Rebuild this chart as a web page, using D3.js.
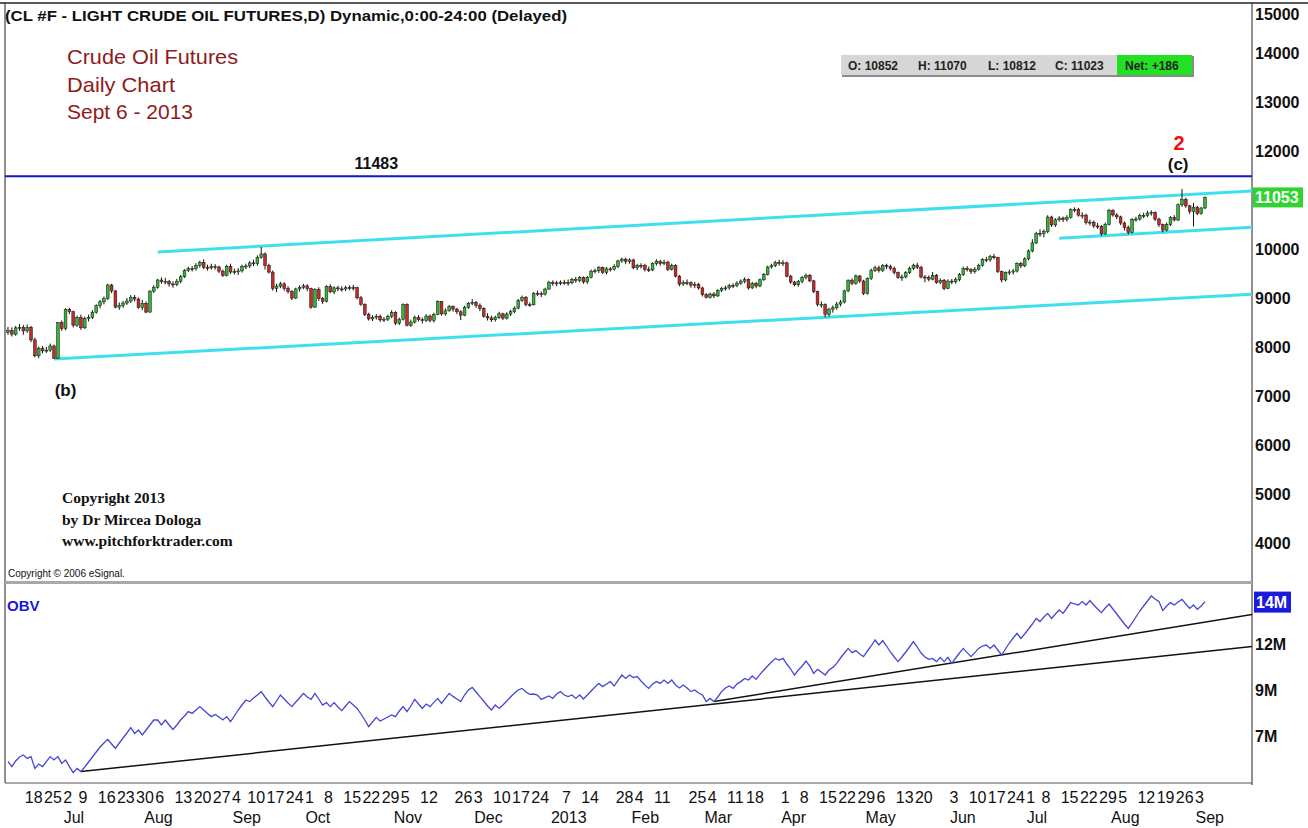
<!DOCTYPE html>
<html>
<head>
<meta charset="utf-8">
<script src="https://cdn.jsdelivr.net/npm/d3@7"></script>
<style>
  body { margin: 0; background: #fff; }
  svg { display: block; font-family: "Liberation Sans", Arial, sans-serif; }
</style>
</head>
<body>
<svg id="chart" width="1308" height="828"></svg>
<script>
// daily bars: [day, high, low, close, OBV in millions]
// open of each bar is the previous bar's close
const firstOpen = 8300;
const jun12 = [[12,8410,8250,8332,5.72],[13,8400,8215,8262,5.47],[14,8430,8230,8391,5.75],[15,8470,8330,8403,5.95],[18,8450,8250,8327,6.05],[19,8460,8290,8403,5.88],[20,8430,8100,8145,5.97],[21,8190,7790,7820,5.38],[22,8010,7770,7976,5.6],[25,8020,7870,7921,5.47],[26,8000,7880,7936,5.72],[27,8070,7900,8021,5.97],[28,8050,7756,7769,5.8],[29,8510,7760,8496,5.97]];
const jul12 = [[2,8540,8330,8375,5.63],[3,8790,8340,8766,5.8],[5,8800,8670,8722,5.47],[6,8740,8400,8445,5.17],[9,8640,8410,8599,5.38],[10,8660,8350,8391,5.22],[11,8620,8370,8581,5.45],[12,8660,8520,8608,5.7],[13,8750,8570,8710,5.95],[16,8870,8680,8843,6.2],[17,8960,8790,8922,6.45],[18,9030,8870,8987,6.65],[19,9290,8960,9266,6.83],[20,9290,9100,9144,6.6],[23,9160,8790,8814,6.38],[24,8910,8760,8850,6.65],[25,8940,8800,8897,6.9],[26,9000,8860,8939,7.15],[27,9060,8900,9013,7.42],[30,9060,8930,8978,7.13],[31,9010,8780,8806,7.3]];
const aug12 = [[1,8960,8750,8891,7.05],[2,8930,8690,8713,7.3],[3,9160,8700,9140,7.55],[6,9260,9100,9220,7.8],[7,9390,9190,9367,7.8],[8,9420,9290,9335,7.55],[9,9410,9280,9336,7.8],[10,9370,9230,9287,7.55],[13,9340,9210,9273,7.33],[14,9390,9240,9343,7.55],[15,9470,9300,9433,7.8],[16,9590,9410,9560,8.0],[17,9640,9530,9601,8.22],[20,9650,9540,9597,8.13],[21,9710,9560,9668,8.3],[22,9760,9620,9726,8.47],[23,9790,9590,9627,8.3],[24,9680,9560,9615,8.13],[27,9700,9580,9647,7.97],[28,9690,9580,9633,8.08],[29,9660,9510,9549,7.95],[30,9580,9430,9462,7.8],[31,9680,9440,9647,7.97]];
const sep12 = [[4,9700,9490,9530,7.72],[5,9600,9480,9536,8.0],[6,9610,9470,9553,8.3],[7,9680,9520,9642,8.55],[10,9700,9590,9654,8.8],[11,9750,9610,9717,8.72],[12,9780,9650,9701,8.9],[13,9870,9660,9831,9.05],[14,10042,9800,9900,9.22],[17,9930,9580,9662,8.95],[18,9700,9500,9529,8.7],[19,9560,9150,9198,8.47],[20,9290,9120,9242,8.75],[21,9330,9200,9289,9.05],[24,9320,9150,9193,8.85],[25,9240,9090,9137,8.65],[26,9160,8960,8998,8.47],[27,9210,8980,9185,8.7],[28,9260,9130,9219,8.9]];
const oct12 = [[1,9290,9180,9248,9.13],[2,9280,9140,9189,8.95],[3,9210,8780,8814,8.83],[4,9200,8800,9171,9.13],[5,9220,8940,8988,8.85],[8,9020,8880,8933,8.55],[9,9260,8910,9239,8.67],[10,9280,9100,9125,8.47],[11,9240,9080,9207,8.67],[12,9250,9140,9186,8.45],[15,9240,9130,9185,8.27],[16,9250,9140,9209,8.5],[17,9260,9160,9212,8.72],[18,9270,9150,9210,8.55],[19,9230,8970,9005,8.38],[22,9040,8840,8873,8.1],[23,8890,8630,8667,7.8],[24,8700,8540,8573,7.47],[25,8650,8530,8605,7.7],[26,8670,8560,8628,7.93],[29,8660,8510,8554,7.75],[30,8610,8510,8568,7.85],[31,8660,8530,8624,7.95]];
const nov12 = [[1,8750,8590,8709,8.05],[2,8730,8450,8486,7.97],[5,8600,8450,8565,8.25],[6,8890,8540,8871,8.47],[7,8890,8420,8444,8.22],[8,8560,8410,8509,8.5],[9,8640,8480,8607,8.83],[12,8650,8520,8557,8.6],[13,8600,8480,8538,8.38],[14,8670,8510,8632,8.6],[15,8660,8500,8545,8.47],[16,8700,8500,8667,8.68],[19,8950,8650,8928,8.88],[20,8940,8640,8675,8.63],[21,8790,8640,8738,8.88],[23,8860,8720,8828,9.13],[26,8850,8720,8774,8.98],[27,8800,8670,8718,8.85],[28,8750,8550,8649,8.72],[29,8840,8630,8807,9.05],[30,8920,8780,8891,9.3]];
const dec12 = [[3,8980,8850,8909,9.43],[4,8940,8800,8849,9.2],[5,8890,8730,8788,8.97],[6,8810,8600,8626,8.75],[7,8690,8540,8593,8.5],[10,8640,8510,8556,8.3],[11,8640,8520,8599,8.55],[12,8720,8570,8677,8.38],[13,8700,8550,8589,8.55],[14,8710,8560,8673,8.75],[17,8760,8630,8720,8.95],[18,8830,8690,8793,9.15],[19,8980,8770,8951,9.3],[20,9050,8920,9013,9.38],[21,9040,8830,8866,9.2],[24,8910,8820,8861,9.08],[26,9120,8850,9098,9.1],[27,9150,9040,9087,9.05],[28,9130,9020,9080,8.83],[31,9210,9050,9182,8.92]];
const jan13 = [[2,9350,9170,9312,9.0],[3,9360,9250,9292,8.88],[4,9350,9240,9309,9.1],[7,9360,9260,9319,9.22],[8,9370,9270,9315,9.05],[9,9380,9250,9310,8.97],[10,9410,9280,9382,9.05],[11,9430,9310,9356,8.88],[14,9450,9320,9414,9.05],[15,9440,9290,9328,8.85],[16,9450,9290,9424,9.05],[17,9580,9400,9549,9.25],[18,9600,9500,9556,9.45],[22,9650,9510,9624,9.63],[23,9640,9490,9523,9.47],[24,9630,9480,9595,9.6],[25,9630,9540,9588,9.72],[28,9690,9560,9644,9.5],[29,9780,9610,9757,9.78],[30,9820,9720,9794,10.05],[31,9820,9690,9749,9.88]];
const feb13 = [[1,9810,9700,9777,10.05],[4,9800,9590,9617,9.92],[5,9700,9570,9664,9.97],[6,9710,9600,9662,9.75],[7,9700,9540,9583,9.55],[8,9640,9530,9572,9.38],[11,9730,9550,9703,9.6],[12,9790,9660,9751,9.72],[13,9780,9660,9701,9.63],[14,9780,9670,9731,9.8],[15,9760,9550,9586,9.63],[19,9700,9560,9666,9.8],[20,9690,9420,9446,9.55],[21,9470,9240,9284,9.4],[22,9360,9250,9313,9.55],[25,9380,9260,9311,9.4],[26,9340,9210,9263,9.22],[27,9330,9200,9276,9.3],[28,9310,9170,9205,9.15]];
const mar13 = [[1,9230,9030,9068,9.05],[4,9100,8990,9012,8.72],[5,9110,8990,9082,8.88],[6,9120,9000,9043,8.72],[7,9180,9020,9156,8.95],[8,9230,9120,9195,9.22],[11,9250,9150,9206,9.4],[12,9290,9170,9254,9.5],[13,9300,9200,9252,9.38],[14,9340,9220,9303,9.6],[15,9380,9270,9345,9.72],[18,9420,9300,9373,9.88],[19,9400,9170,9206,9.8],[20,9330,9180,9296,10.0],[21,9330,9200,9245,9.83],[22,9400,9220,9371,10.08],[25,9510,9350,9481,10.3],[26,9660,9460,9634,10.5],[27,9700,9600,9658,10.7],[28,9760,9630,9723,10.88]];
const apr13 = [[1,9780,9660,9707,10.8],[2,9770,9650,9719,10.88],[3,9740,9420,9445,10.6],[4,9470,9290,9326,10.35],[5,9350,9240,9270,10.05],[8,9370,9230,9336,10.3],[9,9450,9300,9420,10.5],[10,9500,9380,9464,10.75],[11,9490,9320,9350,10.5],[12,9370,9100,9129,10.13],[15,9150,8830,8871,10.33],[16,8930,8800,8872,10.2],[17,8890,8606,8668,10.05],[18,8800,8620,8773,10.3],[19,8850,8700,8801,10.43],[22,8920,8760,8876,10.63],[23,8960,8830,8918,10.9],[24,9170,8890,9144,11.15],[25,9380,9120,9364,11.38],[26,9400,9260,9300,11.17],[29,9480,9270,9450,11.27],[30,9470,9310,9346,11.1]];
const may13 = [[1,9370,9060,9093,10.97],[2,9420,9070,9399,11.25],[3,9600,9370,9561,11.5],[6,9660,9530,9616,11.8],[7,9660,9520,9562,11.55],[8,9690,9530,9662,11.77],[9,9700,9590,9639,11.5],[10,9680,9560,9604,11.2],[13,9640,9480,9517,10.95],[14,9540,9390,9421,10.72],[15,9480,9350,9430,10.95],[16,9550,9400,9516,11.2],[17,9640,9490,9602,11.45],[20,9700,9570,9671,11.72],[21,9720,9590,9625,11.45],[22,9660,9400,9428,11.15],[23,9470,9320,9425,10.95],[24,9460,9340,9384,10.83],[28,9530,9360,9465,10.88],[29,9490,9290,9313,10.72],[30,9400,9280,9361,10.93],[31,9390,9160,9197,10.72]];
const jun13 = [[3,9380,9180,9345,10.93],[4,9390,9280,9331,10.63],[5,9420,9290,9374,10.9],[6,9510,9340,9476,11.15],[7,9640,9450,9603,11.38],[10,9650,9540,9577,11.17],[11,9610,9490,9538,10.97],[12,9630,9500,9588,11.17],[13,9700,9560,9669,11.38],[14,9810,9640,9785,11.5],[17,9840,9730,9777,11.55],[18,9880,9740,9844,11.38],[19,9900,9790,9824,11.55],[20,9840,9510,9540,11.3],[21,9560,9320,9369,11.05],[24,9540,9340,9518,11.35],[25,9580,9470,9532,11.65],[26,9590,9480,9550,11.9],[27,9730,9520,9705,12.13],[28,9740,9610,9656,11.88]];
const jul13 = [[1,9830,9630,9799,12.1],[2,9990,9770,9960,12.35],[3,10200,9930,10124,12.6],[5,10350,10100,10322,12.88],[8,10400,10250,10314,12.72],[9,10400,10240,10353,12.95],[10,10690,10320,10652,13.13],[11,10680,10450,10491,12.88],[12,10630,10450,10595,13.1],[15,10670,10560,10632,13.3],[16,10660,10550,10600,13.13],[17,10690,10560,10648,13.4],[18,10830,10620,10804,13.67],[19,10850,10750,10805,13.6],[22,10840,10660,10691,13.55],[23,10750,10620,10691,13.72],[24,10720,10500,10539,13.55],[25,10600,10480,10549,13.77],[26,10580,10430,10470,13.55],[29,10530,10410,10455,13.35],[30,10490,10270,10308,13.17],[31,10540,10290,10503,13.4]];
const aug13 = [[1,10820,10480,10789,13.6],[2,10810,10660,10694,13.35],[5,10730,10610,10656,13.1],[6,10680,10490,10530,12.85],[7,10560,10380,10437,12.6],[8,10480,10300,10340,12.38],[9,10630,10320,10603,12.65],[12,10660,10560,10611,12.95],[13,10720,10580,10683,13.25],[14,10740,10630,10685,13.5],[15,10780,10650,10733,13.75],[16,10790,10680,10746,14.0],[19,10770,10570,10610,13.85],[20,10640,10450,10496,13.72],[21,10520,10340,10385,13.27],[22,10540,10360,10503,13.5],[23,10670,10470,10642,13.67],[26,10690,10560,10592,13.55],[27,10930,10570,10901,13.7],[28,11224,10860,11010,13.83],[29,11050,10840,10880,13.6],[30,10900,10720,10765,13.38]];
const sep13 = [[3,10940,10460,10854,13.55],[4,10880,10690,10723,13.33],[5,10860,10700,10837,13.5],[6,11070,10812,11053,13.72]];

const months = [["2012-06", jun12], ["2012-07", jul12], ["2012-08", aug12], ["2012-09", sep12],
  ["2012-10", oct12], ["2012-11", nov12], ["2012-12", dec12], ["2013-01", jan13], ["2013-02", feb13],
  ["2013-03", mar13], ["2013-04", apr13], ["2013-05", may13], ["2013-06", jun13], ["2013-07", jul13],
  ["2013-08", aug13], ["2013-09", sep13]];

// axis labels
const priceTicks = [4000, 5000, 6000, 7000, 8000, 9000, 10000, 12000, 13000, 14000, 15000];
const obvTicks = [7.0, 9.3, 11.6];
const weekTicks = ["2012-06-18","2012-06-25","2012-07-02","2012-07-09","2012-07-16","2012-07-23","2012-07-30",
  "2012-08-06","2012-08-13","2012-08-20","2012-08-27","2012-09-04","2012-09-10","2012-09-17","2012-09-24",
  "2012-10-01","2012-10-08","2012-10-15","2012-10-22","2012-10-29","2012-11-05","2012-11-12","2012-11-26",
  "2012-12-03","2012-12-10","2012-12-17","2012-12-24","2013-01-07","2013-01-14","2013-01-28","2013-02-04",
  "2013-02-11","2013-02-25","2013-03-04","2013-03-11","2013-03-18","2013-04-01","2013-04-08","2013-04-15",
  "2013-04-22","2013-04-29","2013-05-06","2013-05-13","2013-05-20","2013-06-03","2013-06-10","2013-06-17",
  "2013-06-24","2013-07-01","2013-07-08","2013-07-15","2013-07-22","2013-07-29","2013-08-05","2013-08-12",
  "2013-08-19","2013-08-26","2013-09-03"];
const monthTicks = [["2012-07-02","Jul"],["2012-08-01","Aug"],["2012-09-04","Sep"],["2012-10-01","Oct"],
  ["2012-11-01","Nov"],["2012-12-03","Dec"],["2013-01-02","2013"],["2013-02-01","Feb"],["2013-03-01","Mar"],
  ["2013-04-01","Apr"],["2013-05-01","May"],["2013-06-03","Jun"],["2013-07-01","Jul"],["2013-08-01","Aug"],
  ["2013-09-03","Sep"]];

// drawn studies: two anchor points each, extended to the right edge
const priceLevel = 11483;
const channelTop = [["2012-08-07", 9940], ["2013-07-19", 10980]];
const channelBottom = [["2012-06-28", 7756], ["2013-04-17", 8606]];
const shortSupport = [["2013-07-15", 10220], ["2013-08-21", 10340]];
const obvLineLow = [["2012-07-10", 5.22], ["2013-03-06", 8.6]];
const obvLineHigh = [["2013-03-06", 8.72], ["2013-06-21", 11.05]];
const quote = { open: 10852, high: 11070, low: 10812, close: 11023, net: 186 };

const bars = [];
months.forEach(([m, rows]) => rows.forEach(r => {
  bars.push({ date: `${m}-${String(r[0]).padStart(2, "0")}`, high: r[1], low: r[2], close: r[3], obv: r[4] });
}));
bars.forEach((b, i) => { b.open = i ? bars[i - 1].close : firstOpen; });
const last = bars[bars.length - 1];

const svg = d3.select("#chart");
const left = 5, axisX = 1252;
const priceTop = 3, priceBottom = 582, obvTop = 584, obvBottom = 783;

const x = d3.scalePoint().domain(bars.map(d => d.date)).range([8, 1205]);
const y = d3.scaleLinear().domain([4000, 15000]).range([543, 4]);
const yObv = d3.scaleLinear().domain([7.0, 11.6]).range([736, 644]);

const defs = svg.append("defs");
defs.append("clipPath").attr("id", "clipPrice").append("rect")
  .attr("x", left).attr("y", priceTop).attr("width", axisX - left).attr("height", priceBottom - priceTop);
defs.append("clipPath").attr("id", "clipObv").append("rect")
  .attr("x", left).attr("y", obvTop).attr("width", axisX - left).attr("height", obvBottom - obvTop);

// frame
svg.append("line").attr("x1", 0).attr("x2", 1308).attr("y1", 3).attr("y2", 3).attr("stroke", "#222").attr("stroke-width", 1.5);
svg.append("line").attr("x1", left).attr("x2", left).attr("y1", 3).attr("y2", obvBottom).attr("stroke", "#222");
svg.append("line").attr("x1", axisX).attr("x2", axisX).attr("y1", 3).attr("y2", obvBottom + 2).attr("stroke", "#222");
svg.append("line").attr("x1", left).attr("x2", axisX).attr("y1", 582.5).attr("y2", 582.5).attr("stroke", "#a9a9a9").attr("stroke-width", 3);
svg.append("line").attr("x1", left).attr("x2", axisX).attr("y1", obvBottom).attr("y2", obvBottom).attr("stroke", "#555");

function ray(pts, ys) {
  const x1 = x(pts[0][0]), y1 = ys(pts[0][1]), x2 = x(pts[1][0]), y2 = ys(pts[1][1]);
  const k = (y2 - y1) / (x2 - x1);
  return [[x1, y1], [axisX, y1 + k * (axisX - x1)]];
}

// price panel
const price = svg.append("g").attr("clip-path", "url(#clipPrice)");

price.append("line")
  .attr("x1", left).attr("x2", axisX).attr("y1", y(priceLevel)).attr("y2", y(priceLevel))
  .attr("stroke", "#1414c8").attr("stroke-width", 2);

[channelTop, channelBottom, shortSupport].forEach(pts => {
  price.append("path").attr("d", d3.line()(ray(pts, y)))
    .attr("stroke", "#3fe0ec").attr("stroke-width", 3).attr("fill", "none");
});

const candle = price.append("g").selectAll("g").data(bars).join("g");
candle.append("line")
  .attr("x1", d => x(d.date)).attr("x2", d => x(d.date))
  .attr("y1", d => y(d.high)).attr("y2", d => y(d.low))
  .attr("stroke", "#111").attr("stroke-width", 1);
candle.append("rect")
  .attr("x", d => x(d.date) - 1.4).attr("width", 2.8)
  .attr("y", d => y(Math.max(d.open, d.close)))
  .attr("height", d => Math.max(1, Math.abs(y(d.open) - y(d.close))))
  .attr("fill", d => d.close >= d.open ? "#35b535" : "#c42c2c")
  .attr("stroke", "#111").attr("stroke-width", 0.5);

// price axis
const pAxis = svg.append("g").attr("transform", `translate(${axisX},0)`)
  .call(d3.axisRight(y).tickValues(priceTicks).tickSize(0).tickPadding(3).tickFormat(d3.format("d")));
pAxis.select(".domain").remove();
pAxis.selectAll("text").style("font-size", "16px").style("font-weight", "bold").attr("fill", "#111");
pAxis.selectAll(".tick").filter(d => d === 15000).attr("transform", "translate(0,15)");

svg.append("rect").attr("x", axisX + 1).attr("y", y(last.close) - 10).attr("width", 50).attr("height", 20).attr("fill", "#2fd52f");
svg.append("text").attr("x", axisX + 3).attr("y", y(last.close) + 6)
  .style("font-size", "16px").style("font-weight", "bold").attr("fill", "#fff").text(last.close);

// OBV panel
const obv = svg.append("g").attr("clip-path", "url(#clipObv)");
[obvLineLow, obvLineHigh].forEach(pts => {
  obv.append("path").attr("d", d3.line()(ray(pts, yObv)))
    .attr("stroke", "#111").attr("stroke-width", 1.5).attr("fill", "none");
});
obv.append("path").datum(bars)
  .attr("d", d3.line().x(d => x(d.date)).y(d => yObv(d.obv)))
  .attr("stroke", "#4646d2").attr("stroke-width", 1.3).attr("fill", "none");

const oAxis = svg.append("g").attr("transform", `translate(${axisX},0)`)
  .call(d3.axisRight(yObv).tickValues(obvTicks).tickSize(0).tickPadding(3).tickFormat(d => Math.round(d) + "M"));
oAxis.select(".domain").remove();
oAxis.selectAll("text").style("font-size", "16px").style("font-weight", "bold").attr("fill", "#111");

svg.append("rect").attr("x", axisX + 2).attr("y", yObv(last.obv) - 10).attr("width", 37).attr("height", 21).attr("fill", "#1a1ae0");
svg.append("text").attr("x", axisX + 4).attr("y", yObv(last.obv) + 6)
  .style("font-size", "16px").style("font-weight", "bold").attr("fill", "#fff").text(Math.round(last.obv) + "M");

svg.append("text").attr("x", 7).attr("y", 611).style("font-size", "15px").style("font-weight", "bold")
  .attr("fill", "#1a1ad0").text("OBV");

// date axis
const dAxis = svg.append("g").attr("transform", `translate(0,${obvBottom})`)
  .call(d3.axisBottom(x).tickValues(weekTicks).tickSize(0).tickPadding(0).tickFormat(d => +d.slice(8)));
dAxis.select(".domain").remove();
dAxis.selectAll("text").attr("text-anchor", "start").attr("dx", "1").attr("y", 20).attr("dy", 0)
  .style("font-size", "16px").attr("fill", "#111");

svg.append("g").selectAll("text").data(monthTicks).join("text")
  .attr("x", d => x(d[0]) + 2).attr("y", 823)
  .style("font-size", "16px").attr("fill", "#111").text(d => d[1]);

// header and annotations
svg.append("text").attr("x", 5).attr("y", 21).attr("textLength", 562).attr("lengthAdjust", "spacingAndGlyphs")
  .style("font-size", "15px").style("font-weight", "bold").attr("fill", "#111")
  .text("(CL #F - LIGHT CRUDE OIL FUTURES,D) Dynamic,0:00-24:00 (Delayed)");

const titleLines = [["Crude Oil Futures", 64, 171], ["Daily Chart", 92, 108], ["Sept 6 - 2013", 119, 126]];
svg.append("g").selectAll("text").data(titleLines).join("text")
  .attr("x", 67).attr("y", d => d[1]).attr("textLength", d => d[2]).attr("lengthAdjust", "spacingAndGlyphs")
  .style("font-size", "21px").attr("fill", "#8e1b1b").text(d => d[0]);

svg.append("text").attr("x", x("2012-10-26")).attr("y", y(priceLevel) - 7).attr("text-anchor", "middle")
  .style("font-size", "16px").style("font-weight", "bold").attr("fill", "#111").text(priceLevel);

svg.append("text").attr("x", x("2012-07-03")).attr("y", 396).attr("text-anchor", "middle")
  .style("font-size", "17px").style("font-weight", "bold").attr("fill", "#111").text("(b)");
svg.append("text").attr("x", x("2013-08-27")).attr("y", 170).attr("text-anchor", "middle")
  .style("font-size", "17px").style("font-weight", "bold").attr("fill", "#111").text("(c)");
svg.append("text").attr("x", x("2013-08-27") + 1).attr("y", 150).attr("text-anchor", "middle")
  .style("font-size", "20px").style("font-weight", "bold").attr("fill", "#ee1111").text("2");

const credits = ["Copyright 2013", "by Dr Mircea Dologa", "www.pitchforktrader.com"];
svg.append("g").selectAll("text").data(credits).join("text")
  .attr("x", 62).attr("y", (d, i) => 503 + i * 21.5)
  .style("font-family", "'Liberation Serif', 'Times New Roman', serif")
  .style("font-size", "15.5px").style("font-weight", "bold").attr("fill", "#111").text(d => d);

svg.append("text").attr("x", 8).attr("y", 577).style("font-size", "10px").attr("fill", "#111")
  .text("Copyright \u00a9 2006 eSignal.");

// quote box
const qb = svg.append("g");
qb.append("rect").attr("x", 842).attr("y", 56).attr("width", 352).attr("height", 21).attr("fill", "#8a8a8a");
qb.append("rect").attr("x", 841).attr("y", 55).attr("width", 351).attr("height", 20).attr("fill", "#d6d6d6");
qb.append("rect").attr("x", 1117).attr("y", 55).attr("width", 75).attr("height", 20).attr("fill", "#22e022");
const quoteText = [[848, `O: ${quote.open}`], [918, `H: ${quote.high}`], [988, `L: ${quote.low}`],
  [1055, `C: ${quote.close}`], [1125, `Net: +${quote.net}`]];
qb.selectAll("text").data(quoteText).join("text")
  .attr("x", d => d[0]).attr("y", 70)
  .style("font-size", "12px").style("font-weight", "bold").attr("fill", "#222").text(d => d[1]);
</script>
</body>
</html>
